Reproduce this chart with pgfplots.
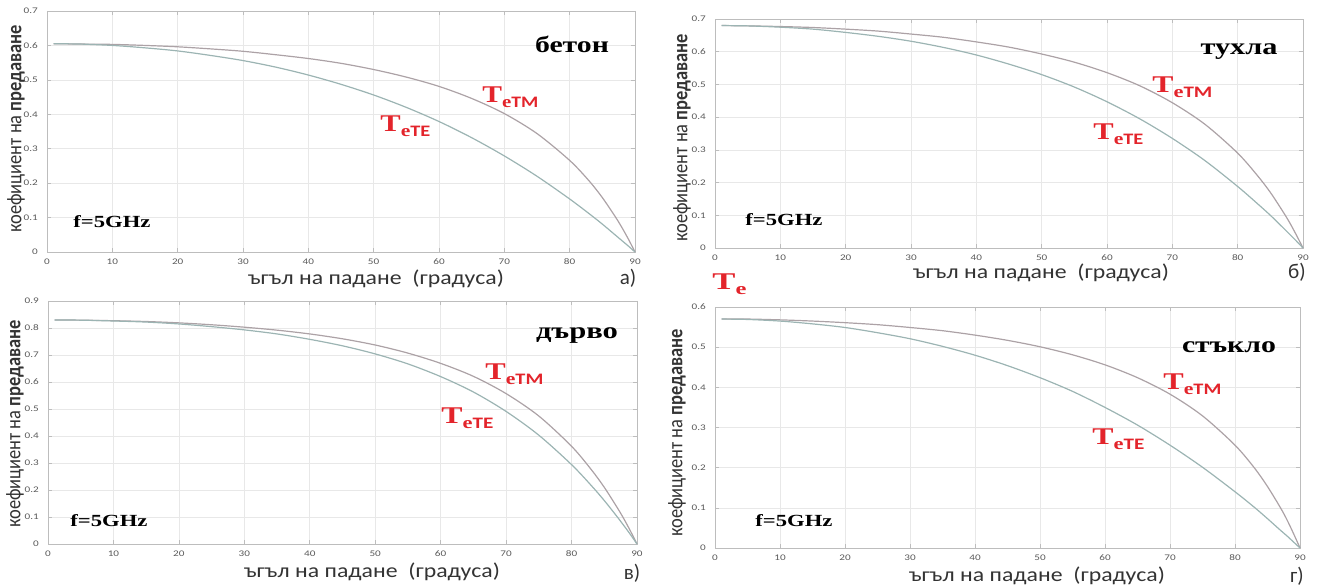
\documentclass[border=0pt]{standalone}
\usepackage{pgfplots}
\pgfplotsset{compat=1.18}
\usepackage{pgfplotstable}
\usepackage{fontspec}
\setmainfont{Carlito}
\newfontfamily\tnr{Liberation Serif}
\definecolor{gridc}{HTML}{E8E8E8}
\definecolor{boxc}{HTML}{BDBDBD}
\definecolor{tickc}{HTML}{5A5A5A}
\definecolor{tmc}{HTML}{ACA2A6}
\definecolor{tec}{HTML}{9CB4B3}
\definecolor{lab}{HTML}{E3242B}

% red curve labels: T_e<sub>
\newcommand\Tl[2]{\resizebox{#1}{\height}{{\tnr\bfseries\fontsize{12}{12}\selectfont T}\raisebox{-2.5pt}{{\tnr\bfseries\fontsize{8.5}{9}\selectfont e}{\bfseries\fontsize{8}{9}\selectfont #2}}}}
\newcommand\ttl[2]{\resizebox{#1}{\height}{\tnr\bfseries\fontsize{11.5}{12}\selectfont #2}}
\newcommand\fq{\resizebox{38.5pt}{\height}{\tnr\bfseries\fontsize{8.5}{9}\selectfont f=5GHz}}
\newcommand\xl{\resizebox{128pt}{\height}{\fontsize{10}{11}\selectfont ъгъл на падане\ \ (градуса)}}
\newcommand\yl{\resizebox{104pt}{\height}{\fontsize{10.5}{11}\selectfont коефициент на \textbf{предаване}}}
\newcommand\pl[1]{{\fontsize{10.5}{11}\selectfont #1}}

\pgfplotsset{panel/.style={
  scale only axis, anchor=south west,
  xmin=0, xmax=90, ymin=0, xtick={0,10,...,90},
  grid=major, grid style={gridc, line width=0.3pt},
  axis line style={boxc, line width=0.45pt},
  tick style={boxc, line width=0.3pt}, major tick length=2pt, tick align=inside,
  xtick pos=both, ytick pos=both,
  tick label style={font=\fontsize{4.3}{5}\selectfont, text=tickc, xscale=1.3},
  /pgf/number format/assume math mode=true,
  yticklabel style={/pgf/number format/fixed},
  xticklabel style={yshift=0.3pt},
  clip=false}}
\pgfplotsset{tm/.style={tmc, line width=0.6pt, smooth}, te/.style={tec, line width=0.6pt, smooth}}

\pgfplotstableread{
a TE TM
1 0.605 0.605
5 0.604 0.604
10 0.600 0.603
15 0.593 0.600
20 0.584 0.596
25 0.571 0.590
30 0.556 0.583
35 0.537 0.573
40 0.514 0.562
45 0.487 0.548
50 0.456 0.530
55 0.420 0.508
60 0.379 0.481
65 0.332 0.446
70 0.279 0.402
75 0.220 0.344
80 0.154 0.266
83 0.111 0.206
85 0.081 0.158
87 0.049 0.102
88 0.033 0.071
89 0.017 0.037
90 0 0
}\beton
\pgfplotstableread{
a TE TM
1 0.680 0.680
5 0.679 0.679
10 0.675 0.677
15 0.669 0.674
20 0.659 0.669
25 0.647 0.663
30 0.632 0.654
35 0.613 0.644
40 0.590 0.630
45 0.562 0.614
50 0.530 0.593
55 0.492 0.568
60 0.447 0.536
65 0.395 0.496
70 0.335 0.444
75 0.267 0.378
80 0.188 0.290
83 0.136 0.222
85 0.100 0.170
87 0.061 0.109
88 0.041 0.076
89 0.021 0.039
90 0 0
}\tuhla
\pgfplotstableread{
a TE TM
1 0.830 0.830
5 0.829 0.829
10 0.826 0.827
15 0.822 0.824
20 0.815 0.819
25 0.805 0.812
30 0.793 0.803
35 0.778 0.792
40 0.758 0.778
45 0.734 0.760
50 0.704 0.737
55 0.667 0.707
60 0.620 0.669
65 0.563 0.621
70 0.491 0.557
75 0.403 0.474
80 0.294 0.362
83 0.217 0.276
85 0.161 0.210
87 0.100 0.134
88 0.068 0.093
89 0.035 0.048
90 0 0
}\darvo
\pgfplotstableread{
a TE TM
1 0.570 0.570
5 0.569 0.570
10 0.565 0.568
15 0.558 0.565
20 0.549 0.561
25 0.536 0.556
30 0.521 0.549
35 0.502 0.541
40 0.480 0.530
45 0.454 0.517
50 0.424 0.501
55 0.390 0.481
60 0.350 0.456
65 0.306 0.424
70 0.256 0.383
75 0.201 0.329
80 0.140 0.256
83 0.101 0.199
85 0.073 0.153
87 0.044 0.100
88 0.030 0.070
89 0.015 0.036
90 0 0
}\staklo

\begin{document}
\begin{tikzpicture}[x=0.5pt, y=0.5pt]
\path[use as bounding box] (0,0) rectangle (1322,587);

% а) бетон
\begin{axis}[panel, at={(23.5pt,167.5pt)}, width=294pt, height=120.5pt,
  ymax=0.7, ytick={0,0.1,0.2,0.3,0.4,0.5,0.6,0.7}]
\addplot[tm] table[x=a, y=TM] {\beton};
\addplot[te] table[x=a, y=TE] {\beton};
\end{axis}
% б) тухла
\begin{axis}[panel, at={(357.5pt,169.5pt)}, width=294pt, height=114.5pt,
  ymax=0.7, ytick={0,0.1,0.2,0.3,0.4,0.5,0.6,0.7}]
\addplot[tm] table[x=a, y=TM] {\tuhla};
\addplot[te] table[x=a, y=TE] {\tuhla};
\end{axis}
% в) дърво
\begin{axis}[panel, at={(24pt,21.5pt)}, width=294.5pt, height=121.5pt,
  ymax=0.9, ytick={0,0.1,0.2,0.3,0.4,0.5,0.6,0.7,0.8,0.9}]
\addplot[tm] table[x=a, y=TM] {\darvo};
\addplot[te] table[x=a, y=TE] {\darvo};
\end{axis}
% г) стъкло
\begin{axis}[panel, at={(357.5pt,19.5pt)}, width=292.5pt, height=120.5pt,
  ymax=0.6, ytick={0,0.1,0.2,0.3,0.4,0.5,0.6}]
\addplot[tm] table[x=a, y=TM] {\staklo};
\addplot[te] table[x=a, y=TE] {\staklo};
\end{axis}

% titles
\node[anchor=base, inner sep=0] at (572,534) {\ttl{37pt}{бетон}};
\node[anchor=base, inner sep=0] at (1239,532) {\ttl{38.5pt}{тухла}};
\node[anchor=base, inner sep=0] at (577,248) {\ttl{41pt}{дърво}};
\node[anchor=base, inner sep=0] at (1229,234) {\ttl{47pt}{стъкло}};
% f=5GHz
\node[anchor=base west, inner sep=0] at (73,359) {\fq};
\node[anchor=base west, inner sep=0] at (745,361) {\fq};
\node[anchor=base west, inner sep=0] at (70,60) {\fq};
\node[anchor=base west, inner sep=0] at (755,60) {\fq};
% curve labels
\begin{scope}[every node/.style={anchor=base west, inner sep=0, text=lab}]
\node at (482,484) {\Tl{28pt}{TM}};
\node at (380,455) {\Tl{25pt}{TE}};
\node at (1152,494) {\Tl{30pt}{TM}};
\node at (1093,447) {\Tl{25pt}{TE}};
\node at (485,207) {\Tl{29pt}{TM}};
\node at (441,163) {\Tl{26pt}{TE}};
\node at (1163,197) {\Tl{29pt}{TM}};
\node at (1092,142) {\Tl{26pt}{TE}};
\node at (712,297) {\resizebox{17pt}{\height}{{\tnr\bfseries\fontsize{12}{12}\selectfont T}\raisebox{-2.5pt}{\tnr\bfseries\fontsize{8.5}{9}\selectfont e}}};
\end{scope}
% axis labels
\begin{scope}[every node/.style={inner sep=0, text=black!80}]
\node[anchor=base] at (376,302) {\xl};
\node[anchor=base] at (1041,308) {\xl};
\node[anchor=base] at (372,9) {\xl};
\node[anchor=base] at (1037,5) {\xl};
\node[rotate=90] at (16,458) {\yl};
\node[rotate=90] at (682,449) {\yl};
\node[rotate=90] at (15,163) {\yl};
\node[rotate=90] at (677,154) {\yl};
\node[anchor=base] at (628,302) {\pl{а)}};
\node[anchor=base] at (1297,308) {\pl{б)}};
\node[anchor=base] at (632,7) {\pl{в)}};
\node[anchor=base] at (1297,4) {\pl{г)}};
\end{scope}
\end{tikzpicture}
\end{document}
